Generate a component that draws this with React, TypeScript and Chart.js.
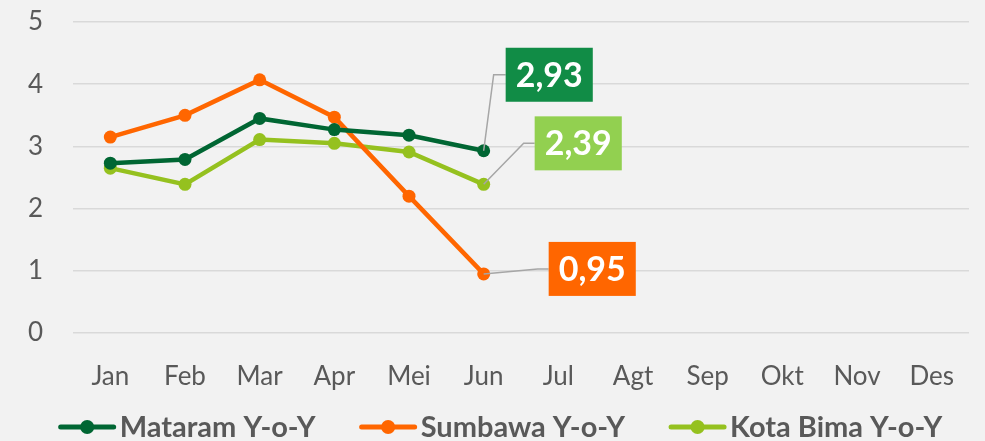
import React, { useEffect, useRef } from "react";
import { Chart, registerables } from "chart.js";

Chart.register(...registerables);

const months = ["Jan", "Feb", "Mar", "Apr", "Mei", "Jun", "Jul", "Agt", "Sep", "Okt", "Nov", "Des"];
const mataram = [2.73, 2.79, 3.45, 3.27, 3.18, 2.93, null, null, null, null, null, null];
const sumbawa = [3.15, 3.5, 4.07, 3.47, 2.2, 0.95, null, null, null, null, null, null];
const kotaBima = [2.65, 2.39, 3.11, 3.05, 2.91, 2.39, null, null, null, null, null, null];
const seriesNames = ["Mataram Y-o-Y", "Sumbawa Y-o-Y", "Kota Bima Y-o-Y"];
const yMin = 0;
const yMax = 5;

const lineColors = ["#006633", "#FF6600", "#95C11F"];
const boxColors = ["#118C46", "#FF6600", "#92D050"];
// callout placement relative to last point: elbow dx, box left dx, box centre dy
const callouts = [
  { elbowDx: 10, boxDx: 22, dy: -76 },
  { elbowDx: 54, boxDx: 65, dy: -5 },
  { elbowDx: 40, boxDx: 51, dy: -41 },
];

const FONT = "Lato, 'Open Sans', sans-serif";
const TEXT = "#595959";

const calloutPlugin = {
  id: "calloutLabels",
  afterDatasetsDraw(chart: any) {
    const ctx = chart.ctx;
    chart.data.datasets.forEach((ds: any, i: number) => {
      const meta = chart.getDatasetMeta(i);
      let last = -1;
      ds.data.forEach((v: any, j: number) => {
        if (v !== null && v !== undefined) last = j;
      });
      if (last < 0) return;
      const pt = meta.data[last];
      const c = callouts[i];
      const bx = pt.x + c.boxDx;
      const by = pt.y + c.dy;
      const text = Number(ds.data[last]).toFixed(2).replace(".", ",");
      ctx.save();
      ctx.strokeStyle = "#A6A6A6";
      ctx.lineWidth = 1.5;
      ctx.beginPath();
      ctx.moveTo(pt.x, pt.y);
      ctx.lineTo(pt.x + c.elbowDx, by);
      ctx.lineTo(bx, by);
      ctx.stroke();
      ctx.font = `bold 34px ${FONT}`;
      const tw = ctx.measureText(text).width;
      const w = tw + 20;
      const h = 54;
      ctx.fillStyle = boxColors[i];
      ctx.fillRect(bx, by - h / 2, w, h);
      ctx.fillStyle = "#FFFFFF";
      ctx.textAlign = "center";
      ctx.textBaseline = "middle";
      ctx.fillText(text, bx + w / 2, by + 1);
      ctx.restore();
    });
  },
};

const legendPlugin = {
  id: "customLegend",
  afterDraw(chart: any) {
    const ctx = chart.ctx;
    ctx.save();
    ctx.font = `bold 29px ${FONT}`;
    const markerW = 57;
    const gapText = 4;
    const gapItem = 44;
    const items = chart.data.datasets.map((ds: any) => ({
      label: ds.label,
      color: ds.borderColor,
      w: ctx.measureText(ds.label).width,
    }));
    let total = 0;
    items.forEach((it: any) => (total += markerW + gapText + it.w));
    total += gapItem * (items.length - 1);
    let x = chart.width / 2 + 8 - total / 2;
    const y = chart.height - 14;
    items.forEach((it: any) => {
      ctx.strokeStyle = it.color;
      ctx.lineWidth = 5;
      ctx.lineCap = "round";
      ctx.beginPath();
      ctx.moveTo(x + 2, y);
      ctx.lineTo(x + markerW - 2, y);
      ctx.stroke();
      ctx.fillStyle = it.color;
      ctx.beginPath();
      ctx.arc(x + markerW / 2, y, 7, 0, Math.PI * 2);
      ctx.fill();
      ctx.fillStyle = TEXT;
      ctx.textAlign = "left";
      ctx.textBaseline = "middle";
      ctx.fillText(it.label, x + markerW + gapText, y + 1);
      x += markerW + gapText + it.w + gapItem;
    });
    ctx.restore();
  },
};

export default function App() {
  const ref = useRef<HTMLCanvasElement>(null);
  useEffect(() => {
    if (!ref.current) return;
    const series = [mataram, sumbawa, kotaBima];
    const chart = new Chart(ref.current, {
      type: "line",
      data: {
        labels: months,
        datasets: series.map((d, i) => ({
          label: seriesNames[i],
          data: d,
          borderColor: lineColors[i],
          backgroundColor: lineColors[i],
          pointBackgroundColor: lineColors[i],
          pointBorderColor: lineColors[i],
          borderWidth: 4.5,
          pointRadius: 6.5,
          pointBorderWidth: 0,
          tension: 0,
          spanGaps: false,
        })),
      },
      options: {
        responsive: false,
        animation: false,
        layout: { padding: { top: 0, right: 16, bottom: 49, left: 0 } },
        plugins: {
          legend: { display: false },
          tooltip: { enabled: false },
        },
        scales: {
          x: {
            offset: true,
            afterFit: (s: any) => {
              s.height = 59;
            },
            grid: { display: false, drawTicks: false, offset: true },
            border: { display: false },
            ticks: { color: TEXT, font: { family: FONT, size: 26 }, padding: 28 },
          },
          y: {
            min: yMin,
            max: yMax,
            afterFit: (s: any) => {
              s.width = 73;
              s.paddingTop = 22;
              s.paddingBottom = 0;
            },
            grid: { color: "#D9D9D9", lineWidth: 1.5, drawTicks: false },
            border: { display: false },
            ticks: { stepSize: 1, color: TEXT, font: { family: FONT, size: 26 }, padding: 30 },
          },
        },
      },
      plugins: [calloutPlugin, legendPlugin],
    });
    return () => chart.destroy();
  }, []);
  return (
    <div style={{ position: "fixed", left: 0, top: 0, width: 985, height: 441, background: "#F2F2F2" }}>
      <canvas ref={ref} width={985} height={441} />
    </div>
  );
}
